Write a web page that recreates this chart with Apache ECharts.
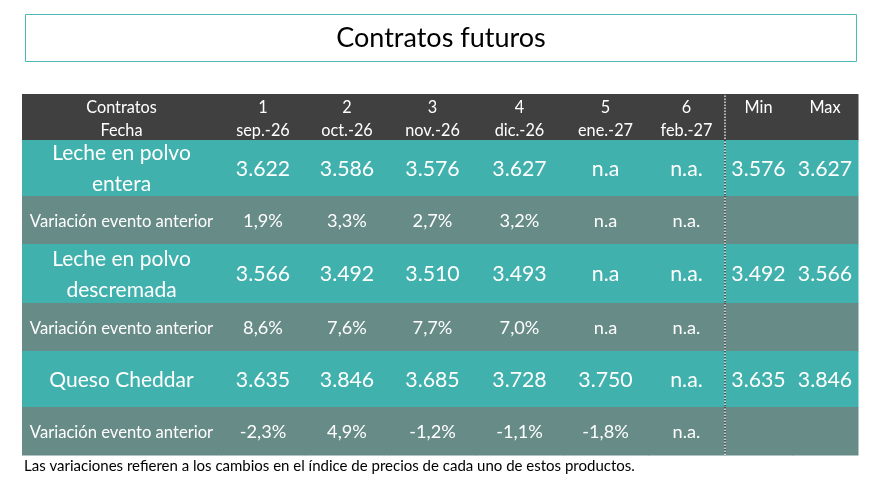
<!DOCTYPE html>
<html>
<head>
<meta charset="utf-8">
<script src="https://cdn.jsdelivr.net/npm/echarts@6/dist/echarts.min.js"></script>
<style>
  html, body { margin: 0; padding: 0; background: #fff; }
  #tabla { width: 884px; height: 487px; }
</style>
</head>
<body>
<div id="tabla"></div>
<script>
// datos de la tabla
let contratos = ['1', '2', '3', '4', '5', '6'];
let fechas = ['sep.-26', 'oct.-26', 'nov.-26', 'dic.-26', 'ene.-27', 'feb.-27'];
let productos = ['Leche en polvo\nentera', 'Leche en polvo\ndescremada', 'Queso Cheddar'];

let precioEntera = [3622, 3586, 3576, 3627, 'n.a', 'n.a.'];
let precioDescremada = [3566, 3492, 3510, 3493, 'n.a', 'n.a.'];
let precioCheddar = [3635, 3846, 3685, 3728, 3750, 'n.a.'];

let variacionEntera = [1.9, 3.3, 2.7, 3.2, 'n.a', 'n.a.'];
let variacionDescremada = [8.6, 7.6, 7.7, 7.0, 'n.a', 'n.a.'];
let variacionCheddar = [-2.3, 4.9, -1.2, -1.1, -1.8, 'n.a.'];

let minimos = [3576, 3492, 3635];
let maximos = [3627, 3566, 3846];

let nota = 'Las variaciones refieren a los cambios en el índice de precios de cada uno de estos productos.';

// layout
let anchoColumnas = [199, 84, 84, 87, 87, 85, 77, 67, 66];
let altoFilas = [46, 56, 48, 59, 48, 56, 48];

let colores = { cabecera: '#404040', precio: '#41B1AD', variacion: '#678B87' };
let fuente = 'Lato, Carlito, "Open Sans", sans-serif';

function acumular(arr) {
    let out = [0];
    for (let v of arr) out.push(out[out.length - 1] + v);
    return out;
}
let bordesX = acumular(anchoColumnas);
let bordesY = acumular(altoFilas);

function formatoPrecio(v) {
    if (typeof v !== 'number') return v;
    let s = String(v);
    return s.length > 3 ? s.slice(0, s.length - 3) + '.' + s.slice(s.length - 3) : s;
}
function formatoVariacion(v) {
    if (typeof v !== 'number') return v;
    return v.toFixed(1).replace('.', ',') + '%';
}

// armar celdas: [columna, fila]
let celdas = [];
celdas.push({ value: [0, 0], texto: 'Contratos\nFecha', tipo: 'cabecera' });
for (let i = 0; i < contratos.length; i++) {
    celdas.push({ value: [i + 1, 0], texto: contratos[i] + '\n' + fechas[i], tipo: 'cabecera' });
}
celdas.push({ value: [7, 0], texto: 'Min\n ', tipo: 'cabecera' });
celdas.push({ value: [8, 0], texto: 'Max\n ', tipo: 'cabecera' });

let precios = [precioEntera, precioDescremada, precioCheddar];
let variaciones = [variacionEntera, variacionDescremada, variacionCheddar];
for (let p = 0; p < productos.length; p++) {
    let filaP = 1 + p * 2;
    let filaV = filaP + 1;
    celdas.push({ value: [0, filaP], texto: productos[p], tipo: 'producto' });
    celdas.push({ value: [0, filaV], texto: 'Variación evento anterior', tipo: 'etiquetaVar' });
    for (let i = 0; i < 6; i++) {
        celdas.push({ value: [i + 1, filaP], texto: formatoPrecio(precios[p][i]), tipo: 'precio' });
        celdas.push({ value: [i + 1, filaV], texto: formatoVariacion(variaciones[p][i]), tipo: 'variacion' });
    }
    celdas.push({ value: [7, filaP], texto: formatoPrecio(minimos[p]), tipo: 'precio' });
    celdas.push({ value: [8, filaP], texto: formatoPrecio(maximos[p]), tipo: 'precio' });
    celdas.push({ value: [7, filaV], texto: '', tipo: 'variacion' });
    celdas.push({ value: [8, filaV], texto: '', tipo: 'variacion' });
}

let estilos = {
    cabecera: { fondo: colores.cabecera, size: 16.3, lh: 23, dy: 2 },
    producto: { fondo: colores.precio, size: 21, lh: 31, dy: 1 },
    precio: { fondo: colores.precio, size: 21.3, lh: 26, dy: 1 },
    etiquetaVar: { fondo: colores.variacion, size: 16.6, lh: 20, dy: 1.5 },
    variacion: { fondo: colores.variacion, size: 18.2, lh: 22, dy: 1.5 }
};

function renderCelda(params, api) {
    let celda = celdas[params.dataIndex];
    let c = api.value(0), r = api.value(1);
    let p0 = api.coord([bordesX[c], bordesY[r]]);
    let p1 = api.coord([bordesX[c + 1], bordesY[r + 1]]);
    let est = estilos[celda.tipo];
    let hijos = [
        {
            type: 'rect',
            shape: { x: p0[0], y: p0[1], width: p1[0] - p0[0] + 0.5, height: p1[1] - p0[1] + 0.5 },
            style: { fill: est.fondo }
        },
        {
            type: 'text',
            x: (p0[0] + p1[0]) / 2,
            y: (p0[1] + p1[1]) / 2 + est.dy,
            style: {
                text: celda.texto,
                fill: '#ffffff',
                font: est.size + 'px ' + fuente,
                lineHeight: est.lh,
                align: 'center',
                verticalAlign: 'middle'
            }
        }
    ];
    if (c === 7) {
        hijos.push({
            type: 'line',
            shape: { x1: p0[0], y1: p0[1], x2: p0[0], y2: p1[1] },
            style: { stroke: '#ffffff', lineWidth: 1.2 }
        });
        hijos.push({
            type: 'line',
            shape: { x1: p0[0], y1: p0[1], x2: p0[0], y2: p1[1] },
            style: { stroke: '#000000', lineWidth: 1.2, lineDash: [1.5, 1.5] }
        });
    }
    return { type: 'group', children: hijos };
}

let opcionTabla = {
    animation: false,
    title: [
        {
            text: nota,
            left: 24,
            top: 459,
            padding: 0,
            textStyle: { fontFamily: fuente, fontSize: 15, fontWeight: 'normal', color: '#000' }
        }
    ],
    graphic: [
        {
            type: 'rect',
            shape: { x: 25.5, y: 14.5, width: 831, height: 47 },
            style: { fill: '#fff', stroke: '#4DB8B4', lineWidth: 1 }
        },
        {
            type: 'text',
            x: 441,
            y: 38,
            style: {
                text: 'Contratos futuros',
                font: '27px ' + fuente,
                fill: '#000',
                align: 'center',
                verticalAlign: 'middle'
            }
        }
    ],
    grid: { left: 22, top: 94, width: bordesX[bordesX.length - 1], height: bordesY[bordesY.length - 1] },
    xAxis: { type: 'value', min: 0, max: bordesX[bordesX.length - 1], show: false },
    yAxis: { type: 'value', min: 0, max: bordesY[bordesY.length - 1], inverse: true, show: false },
    series: [
        {
            type: 'custom',
            renderItem: renderCelda,
            data: celdas.map(function (d) { return d.value; }),
            clip: false
        }
    ]
};

let grafico = echarts.init(document.getElementById('tabla'));
grafico.setOption(opcionTabla);
</script>
</body>
</html>
